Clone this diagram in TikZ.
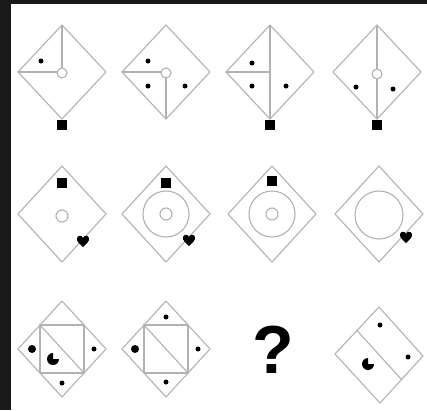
\documentclass[tikz,border=0pt]{standalone}
\usepackage{fontspec}
\newfontfamily\qfont{Liberation Sans}

\begin{document}
\begin{tikzpicture}[x=1pt, y=-1pt, line join=round,
    frame/.style={gray!60, line width=1.1pt},
    hollow/.style={gray!60, line width=1.1pt, fill=white},
    heart/.pic={\fill (0,6) .. controls (-3,3) and (-7,0) .. (-6,-3)
        .. controls (-5,-6) and (-1,-6) .. (0,-3)
        .. controls (1,-6) and (5,-6) .. (6,-3)
        .. controls (7,0) and (3,3) .. (0,6) -- cycle;},
    pacman/.pic={\fill (0,0) -- (0:6) arc[start angle=0, end angle=270, radius=6] -- cycle;}]

    \useasboundingbox (0,0) rectangle (427,410);
    \fill[white] (0,0) rectangle (427,410);
    % Dark edges of the scan
    \fill[black!90] (0,0) rectangle (11,410);
    \fill[black!90] (0,0) rectangle (427,4);

    % Row 1
    \begin{scope}[shift={(62,72)}]
    \draw[frame] (0,-47) -- (44,0) -- (0,47) -- (-44,0) -- cycle;
    \draw[frame] (0,-47) -- (0,0) -- (-44,0);
    \draw[hollow] (0,1) circle (5);
    \fill (-21,-11) circle (2.5);
    \fill (-5,48) rectangle (5,58);
    \end{scope}
    \begin{scope}[shift={(166,72)}]
    \draw[frame] (0,-47) -- (44,0) -- (0,47) -- (-44,0) -- cycle;
    \draw[frame] (-44,0) -- (0,0) -- (0,47);
    \draw[hollow] (0,1) circle (5);
    \fill (-18,-11) circle (2.5);
    \fill (-18,14) circle (2.5);
    \fill (19,14) circle (2.5);
    \end{scope}
    \begin{scope}[shift={(270,72)}]
    \draw[frame] (0,-47) -- (44,0) -- (0,47) -- (-44,0) -- cycle;
    \draw[frame] (0,-47) -- (0,47);
    \draw[frame] (-44,0) -- (0,0);
    \fill (-18,-9) circle (2.5);
    \fill (-18,14) circle (2.5);
    \fill (16,14) circle (2.5);
    \fill (-5,48) rectangle (5,58);
    \end{scope}
    \begin{scope}[shift={(377,72)}]
    \draw[frame] (0,-47) -- (44,0) -- (0,47) -- (-44,0) -- cycle;
    \draw[frame] (0,-47) -- (0,47);
    \draw[hollow] (0,2) circle (5);
    \fill (-21,15) circle (2.5);
    \fill (16,17) circle (2.5);
    \fill (-5,48) rectangle (5,58);
    \end{scope}

    % Row 2
    \begin{scope}[shift={(62,214)}]
    \draw[frame] (0,-48) -- (44,0) -- (0,48) -- (-44,0) -- cycle;
    \draw[frame] (0,2) circle (6);
    \fill (-5,-36) rectangle (5,-26);
    \pic at (21,27) {heart};
    \end{scope}
    \begin{scope}[shift={(166,214)}]
    \draw[frame] (0,-48) -- (44,0) -- (0,48) -- (-44,0) -- cycle;
    \draw[frame] (0,0) circle (23);
    \draw[frame] (0,0) circle (6);
    \fill (-5,-36) rectangle (5,-26);
    \pic at (23,26) {heart};
    \end{scope}
    \begin{scope}[shift={(272,214)}]
    \draw[frame] (0,-48) -- (44,0) -- (0,48) -- (-44,0) -- cycle;
    \draw[frame] (0,0) circle (23);
    \draw[frame] (0,0) circle (6);
    \fill (-5,-38) rectangle (5,-28);
    \end{scope}
    \begin{scope}[shift={(379,214)}]
    \draw[frame] (0,-48) -- (44,0) -- (0,48) -- (-44,0) -- cycle;
    \draw[frame] (0,1) circle (24);
    \pic at (27,23) {heart};
    \end{scope}

    % Row 3
    \begin{scope}[shift={(62,349)}]
    \draw[frame] (0,-48) -- (44,0) -- (0,48) -- (-44,0) -- cycle;
    \draw[frame] (-22,-24) rectangle (22,24);
    \draw[frame] (-22,-24) -- (22,24);
    \fill (-30,0) circle (4);
    \fill (32,0) circle (2.5);
    \fill (0,34) circle (2.5);
    \pic at (-9,10) {pacman};
    \end{scope}
    \begin{scope}[shift={(166,349)}]
    \draw[frame] (0,-48) -- (44,0) -- (0,48) -- (-44,0) -- cycle;
    \draw[frame] (-22,-24) rectangle (22,24);
    \draw[frame] (-22,-24) -- (22,24);
    \fill (-31,0) circle (4);
    \fill (32,0) circle (2.5);
    \fill (0,-32) circle (2.5);
    \fill (0,33) circle (2.5);
    \end{scope}
    \node (qmark) at (273,350) {\qfont\bfseries\fontsize{68}{68}\selectfont ?};
    \begin{scope}[shift={(379,355)}]
    \draw[frame] (0,-48) -- (44,1) -- (1,48) -- (-44,-1) -- cycle;
    \draw[frame] (-22,-24.5) -- (22.5,24.5);
    \fill (1,-30) circle (2.5);
    \fill (29,2) circle (2.5);
    \pic at (-11,9) {pacman};
    \end{scope}
\end{tikzpicture}
\end{document}
